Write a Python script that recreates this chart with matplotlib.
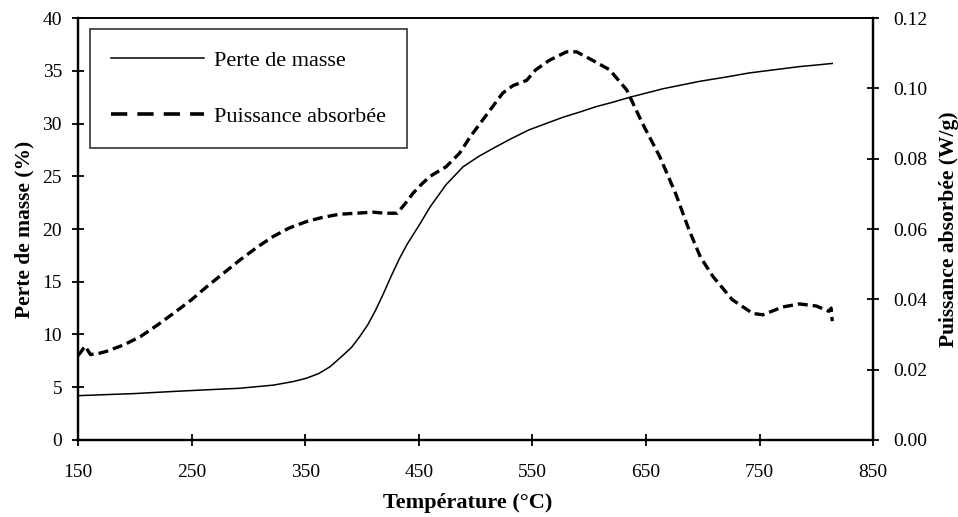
import matplotlib
matplotlib.use("Agg")
import matplotlib.pyplot as plt
from matplotlib.lines import Line2D

plt.rcParams['font.family'] = ['Liberation Serif', 'DejaVu Serif']

# Perte de masse (%) en fonction de la température
temp_masse = [150, 200, 234, 262, 292, 322, 340, 351, 362, 372, 383, 391, 398, 405, 412,
              419, 426, 433, 440, 450, 460, 474, 489, 503, 518, 532, 547, 562, 577,
              592, 606, 620, 636, 665, 697, 720, 741, 763, 785, 800, 814]
perte_masse = [4.2, 4.4, 4.6, 4.75, 4.9, 5.2, 5.55, 5.85, 6.3, 6.95, 8.0, 8.8, 9.8, 10.9, 12.3,
               13.9, 15.6, 17.2, 18.6, 20.3, 22.1, 24.2, 25.9, 26.9, 27.8, 28.6, 29.4, 30.0, 30.6,
               31.1, 31.6, 32.0, 32.5, 33.3, 34.0, 34.4, 34.8, 35.1, 35.4, 35.55, 35.7]

# Puissance absorbée (W/g)
temp_puis = [150, 153, 156, 158, 161, 168, 175, 190, 205, 220, 234, 250, 263, 278, 293,
             308, 322, 336, 351, 365, 380, 395, 410, 420, 431, 438, 445, 452, 460, 474,
             486, 495, 506, 515, 524, 533, 545, 553, 565, 580, 589, 603, 618, 633, 647,
             662, 676, 688, 698, 709, 726, 744, 753, 770, 785, 800, 811, 813, 814]
puissance = [0.0240, 0.0252, 0.0267, 0.0258, 0.0243, 0.0246, 0.0252, 0.0270, 0.0294, 0.0327,
             0.0360, 0.0399, 0.0435, 0.0474, 0.0513, 0.0549, 0.0579, 0.0603, 0.0621, 0.0633,
             0.0642, 0.0645, 0.0648, 0.0645, 0.0645, 0.0672, 0.0702, 0.0726, 0.0750, 0.0777,
             0.0816, 0.0861, 0.0909, 0.0948, 0.0987, 0.1008, 0.1023, 0.1053, 0.1080, 0.1104,
             0.1104, 0.1080, 0.1053, 0.0996, 0.0900, 0.0807, 0.0702, 0.0597, 0.0520, 0.0465,
             0.0399, 0.0360, 0.0356, 0.0378, 0.0387, 0.0381, 0.0366, 0.0375, 0.0338]

xticks = [150, 250, 350, 450, 550, 650, 750, 850]
yticks_g = [0, 5, 10, 15, 20, 25, 30, 35, 40]
yticks_d = [0.00, 0.02, 0.04, 0.06, 0.08, 0.10, 0.12]

fig = plt.figure(figsize=(9.58, 5.17), dpi=100)
ax = fig.add_axes([0.0814, 0.149, 0.830, 0.816])
ax2 = ax.twinx()

ax.plot(temp_masse, perte_masse, color='black', lw=1.1)
ax2.plot(temp_puis, puissance, color='black', lw=2.4, dashes=(3.0, 1.5))

ax.set_xlim(150, 850)
ax.set_ylim(0, 40)
ax2.set_ylim(0, 0.12)
ax.set_xticks(xticks)
ax.set_yticks(yticks_g)
ax2.set_yticks(yticks_d)
ax2.set_yticklabels([f"{v:.2f}" for v in yticks_d])

for a in (ax, ax2):
    a.tick_params(direction='inout', length=9, width=1.3, labelsize=14, colors='black')
    for s in a.spines.values():
        s.set_linewidth(1.6)
    a.spines['top'].set_linewidth(1.2)
ax.tick_params(axis='x', pad=13)
ax.tick_params(axis='y', pad=7)
ax2.tick_params(axis='y', pad=10)

ax.set_xlabel("Température (°C)", fontsize=16, fontweight='bold')
ax.xaxis.set_label_coords(0.49, -0.125)
ax.set_ylabel("Perte de masse (%)", fontsize=15.5, fontweight='bold', labelpad=6)
ax2.set_ylabel("Puissance absorbée (W/g)", fontsize=15.5, fontweight='bold', labelpad=8)

handles = [Line2D([], [], color='black', lw=1.1),
           Line2D([], [], color='black', lw=2.6, dashes=(4.5, 2.8))]
leg = ax.legend(handles, ["Perte de masse", "Puissance absorbée"],
                loc='upper left', bbox_to_anchor=(0.015, 0.974), fontsize=16,
                frameon=True, fancybox=False, edgecolor='black', handlelength=4.2,
                labelspacing=1.6, borderpad=0.95, handletextpad=0.45, borderaxespad=0)
leg.get_frame().set_linewidth(1.2)

fig.savefig("out.png", dpi=100)
